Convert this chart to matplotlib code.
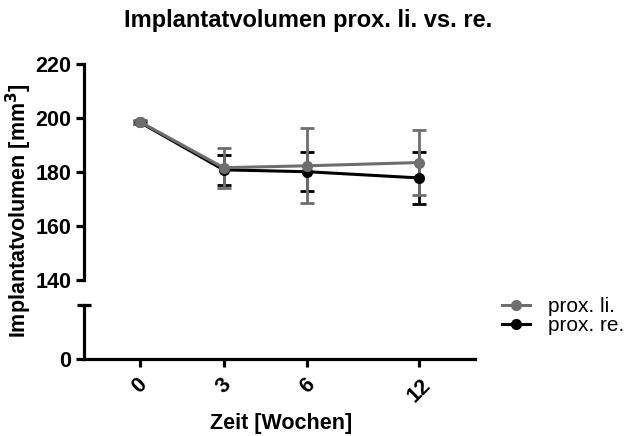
import matplotlib
matplotlib.use('Agg')
import matplotlib.pyplot as plt
from matplotlib.lines import Line2D

plt.rcParams['font.family'] = ['Liberation Sans', 'DejaVu Sans']

# data
weeks = ['0', '3', '6', '12']
x_pos = [0, 3, 6, 10]
li_mean = [198.6, 181.6, 182.3, 183.5]
li_sd = [0.8, 7.4, 13.9, 12.2]
re_mean = [198.4, 180.8, 180.1, 177.8]
re_sd = [0.6, 5.6, 7.2, 9.6]

gray = '#6e6e6e'
lw_axis = 2.3
fs = 15.5

fig = plt.figure(figsize=(6.28, 4.36), dpi=100)
ax_top = fig.add_axes([84/628, 1-280/436, 391/628, 216/436])
ax_bot = fig.add_axes([84/628, 1-359/436, 391/628, 54/436])

for ax in (ax_top, ax_bot):
    ax.errorbar(x_pos, re_mean, yerr=re_sd, color='black', marker='o', ms=7,
                lw=2.2, capsize=5, capthick=2, elinewidth=2)
    ax.errorbar(x_pos, li_mean, yerr=li_sd, color=gray, marker='o', ms=7,
                lw=2.2, capsize=5, capthick=2, elinewidth=2)
    ax.set_xlim(-2, 12)
    for s in ('top', 'right'):
        ax.spines[s].set_visible(False)
    ax.spines['left'].set_linewidth(lw_axis)
    ax.spines['bottom'].set_linewidth(lw_axis)
    ax.tick_params(width=lw_axis, length=6, labelsize=fs, pad=3)

ax_top.set_ylim(140, 220)
ax_top.set_yticks([140, 160, 180, 200, 220])
ax_top.set_yticklabels(['140', '160', '180', '200', '220'], fontweight='bold')
ax_top.spines['bottom'].set_visible(False)
ax_top.set_xticks([])

ax_bot.set_ylim(0, 20)
ax_bot.set_yticks([0])
ax_bot.set_yticklabels(['0'], fontweight='bold')
ax_bot.set_xticks(x_pos)
ax_bot.set_xticklabels(weeks, rotation=45, fontweight='bold', ha='center', va='top')
ax_bot.tick_params(axis='x', pad=5)
# break mark at top of lower axis
ax_bot.plot([-2.25, -1.75], [20, 20], color='black', lw=lw_axis, clip_on=False,
            solid_capstyle='butt')

fig.text(19/628, 1-211/436, 'Implantatvolumen [mm$^\\mathbf{3}$]', rotation=90,
         ha='center', va='center', fontsize=fs, fontweight='bold')
fig.text(281/628, 1-423/436, 'Zeit [Wochen]', ha='center', va='center',
         fontsize=fs, fontweight='bold')
fig.text(308/628, 1-20/436, 'Implantatvolumen prox. li. vs. re.', ha='center',
         va='center', fontsize=17, fontweight='bold')

handles = [Line2D([], [], color=gray, marker='o', ms=7, lw=2.2),
           Line2D([], [], color='black', marker='o', ms=7, lw=2.2)]
fig.legend(handles, ['prox. li.', 'prox. re.'], loc='center left',
           bbox_to_anchor=(502/628, 1-316/436), frameon=False, fontsize=15,
           handlelength=1.35, handletextpad=0.85, labelspacing=0.0, borderpad=0,
           borderaxespad=0)

fig.savefig('out.png', dpi=100)
